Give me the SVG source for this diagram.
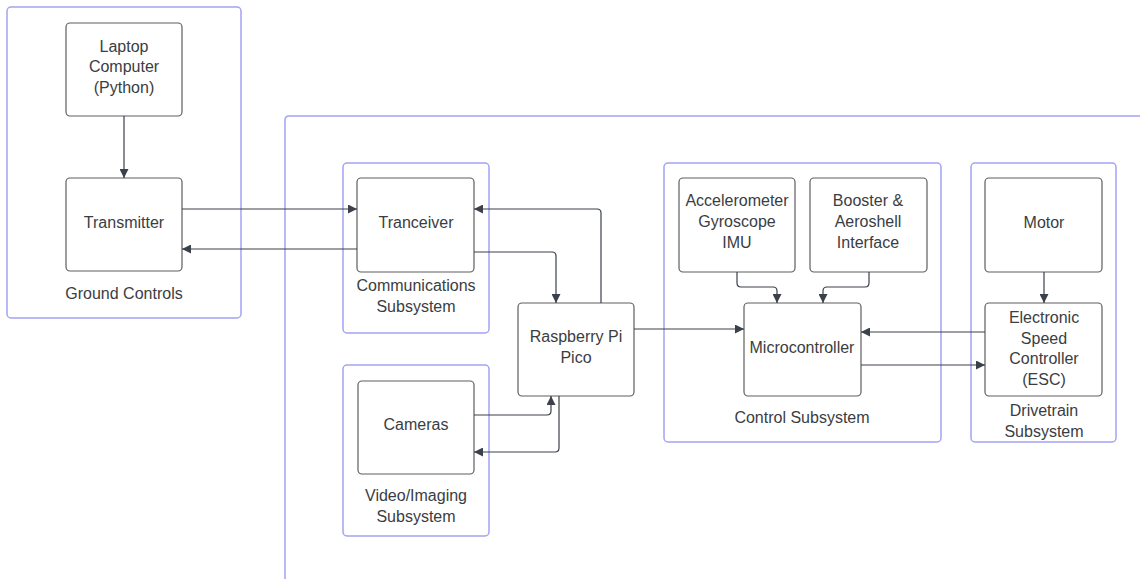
<svg xmlns="http://www.w3.org/2000/svg" width="1140" height="579" viewBox="0 0 1140 579">
<defs>
<marker id="ah" viewBox="0 0 10 10" refX="10" refY="5" markerWidth="9" markerHeight="9" markerUnits="userSpaceOnUse" orient="auto">
<path d="M0,0 L10,5 L0,10 Z" fill="#3a414a"/>
</marker>
<style>
.grp{fill:none;stroke:#a3a3f5;stroke-width:1.5}
.node{fill:#fff;stroke:#5e5e5e;stroke-width:1.2}
.t{font-family:"Liberation Sans",Arial,sans-serif;font-size:16px;fill:#3a3d42;text-anchor:middle}
.c{fill:none;stroke:#3a414a;stroke-width:1.2;marker-end:url(#ah)}
</style>
</defs>
<rect width="1140" height="579" fill="#fff"/>
<g id="containers">
<rect id="ground" class="grp" x="7" y="7" width="234" height="311" rx="4"/>
<path id="main" class="grp" d="M1141,116 L289,116 Q285,116 285,120 L285,580"/>
<rect id="comms" class="grp" x="343" y="163" width="146" height="170" rx="4"/>
<rect id="video" class="grp" x="343" y="365" width="146" height="171" rx="4"/>
<rect id="control" class="grp" x="664" y="163" width="277" height="279" rx="4"/>
<rect id="drive" class="grp" x="971" y="163" width="145" height="279" rx="4"/>
</g>
<g id="labels">
<text class="t" x="124" y="299">Ground Controls</text>
<text class="t" x="416" y="291">Communications</text>
<text class="t" x="416" y="312">Subsystem</text>
<text class="t" x="416" y="501">Video/Imaging</text>
<text class="t" x="416" y="522">Subsystem</text>
<text class="t" x="802" y="423">Control Subsystem</text>
<text class="t" x="1044" y="416">Drivetrain</text>
<text class="t" x="1044" y="437">Subsystem</text>
</g>
<g id="laptop">
<rect class="node" x="66" y="23" width="116" height="93" rx="4"/>
<text class="t" x="124" y="52">Laptop</text>
<text class="t" x="124" y="72">Computer</text>
<text class="t" x="124" y="93">(Python)</text>
</g>
<g id="transmitter">
<rect class="node" x="66" y="178" width="116" height="93" rx="4"/>
<text class="t" x="124" y="228">Transmitter</text>
</g>
<g id="tranceiver">
<rect class="node" x="357" y="178" width="117" height="94" rx="4"/>
<text class="t" x="416" y="228">Tranceiver</text>
</g>
<g id="pico">
<rect class="node" x="518" y="303" width="116" height="93" rx="4"/>
<text class="t" x="576" y="342">Raspberry Pi</text>
<text class="t" x="576" y="363">Pico</text>
</g>
<g id="cameras">
<rect class="node" x="358" y="381" width="116" height="93" rx="4"/>
<text class="t" x="416" y="430">Cameras</text>
</g>
<g id="imu">
<rect class="node" x="679" y="178" width="116" height="94" rx="4"/>
<text class="t" x="737" y="206">Accelerometer</text>
<text class="t" x="737" y="227">Gyroscope</text>
<text class="t" x="737" y="248">IMU</text>
</g>
<g id="booster">
<rect class="node" x="810" y="178" width="117" height="94" rx="4"/>
<text class="t" x="868" y="206">Booster &amp;</text>
<text class="t" x="868" y="227">Aeroshell</text>
<text class="t" x="868" y="248">Interface</text>
</g>
<g id="micro">
<rect class="node" x="744" y="303" width="117" height="93" rx="4"/>
<text class="t" x="802" y="353">Microcontroller</text>
</g>
<g id="motor">
<rect class="node" x="985" y="178" width="117" height="94" rx="4"/>
<text class="t" x="1044" y="228">Motor</text>
</g>
<g id="esc">
<rect class="node" x="985" y="303" width="117" height="93" rx="4"/>
<text class="t" x="1044" y="323">Electronic</text>
<text class="t" x="1044" y="344">Speed</text>
<text class="t" x="1044" y="364">Controller</text>
<text class="t" x="1044" y="385">(ESC)</text>
</g>
<g id="connectors">
<path class="c" d="M124,116 L124,178"/>
<path class="c" d="M182,209 L357,209"/>
<path class="c" d="M357,249 L182,249"/>
<path class="c" d="M601,303 L601,213 Q601,209 597,209 L474,209"/>
<path class="c" d="M474,252 L552,252 Q556,252 556,256 L556,303"/>
<path class="c" d="M634,329 L744,329"/>
<path class="c" d="M474,415 L547,415 Q551,415 551,411 L551,396"/>
<path class="c" d="M559,396 L559,448 Q559,452 555,452 L474,452"/>
<path class="c" d="M737,272 L737,283 Q737,287 741,287 L773,287 Q777,287 777,291 L777,303"/>
<path class="c" d="M869,272 L869,283 Q869,287 865,287 L827,287 Q823,287 823,291 L823,303"/>
<path class="c" d="M1044,272 L1044,303"/>
<path class="c" d="M985,332 L861,332"/>
<path class="c" d="M861,365 L985,365"/>
</g>
</svg>
